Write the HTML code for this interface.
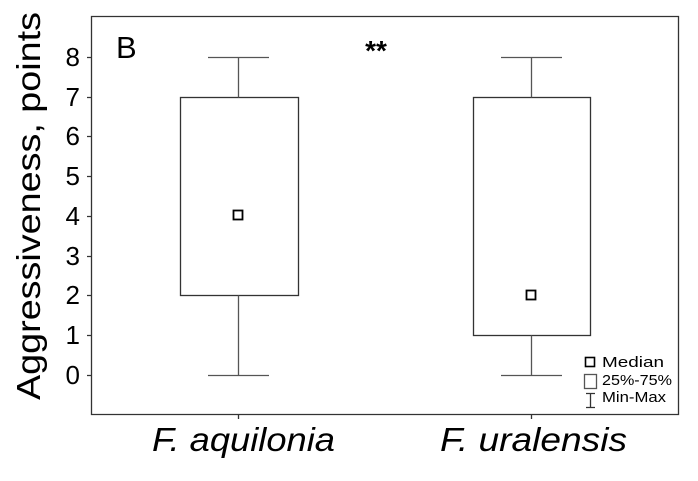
<!DOCTYPE html>
<html><head><meta charset="utf-8"><style>
html,body{margin:0;padding:0;background:#fff;}
svg{display:block;font-family:"Liberation Sans",Arial,sans-serif;}
</style></head><body>
<svg width="698" height="481" viewBox="0 0 698 481" xmlns="http://www.w3.org/2000/svg">
<g stroke="#333" stroke-width="1.3" fill="none">
<path d="M91.5 16.5H678.5V414.5H91.5Z"/>
<path d="M87 57.5H91M87 97.5H91M87 136.5H91M87 176.5H91M87 216.5H91M87 256.5H91M87 295.5H91M87 335.5H91M87 375.5H91"/>
<path d="M238.5 414V419M531.5 414V419"/>
<rect x="180.5" y="97.5" width="118" height="198"/>
<path d="M238.5 57.5V97.5M238.5 295.5V375.5M208 57.5H269M208 375.5H269" stroke="#555"/>
<rect x="233.5" y="210.5" width="9" height="9" stroke="#000" stroke-width="1.8"/>
<rect x="473.5" y="97.5" width="117" height="238"/>
<path d="M531.5 57.5V97.5M531.5 335.5V375.5M501 57.5H562M501 375.5H562" stroke="#555"/>
<rect x="526.5" y="290.5" width="9" height="9" stroke="#000" stroke-width="1.8"/>
<rect x="585.5" y="357.5" width="9" height="9" stroke="#000" stroke-width="1.6"/>
<rect x="584.5" y="374.5" width="12" height="14" stroke="#555"/>
<path d="M590.5 393V407M586 393.5H595M586 407.5H595" stroke="#333"/>
</g>
<g font-size="26" text-anchor="end" fill="#000">
<text x="80" y="66">8</text><text x="80" y="106">7</text><text x="80" y="145">6</text>
<text x="80" y="185">5</text><text x="80" y="225">4</text><text x="80" y="265">3</text>
<text x="80" y="304">2</text><text x="80" y="344">1</text><text x="80" y="384">0</text>
</g>
<text transform="translate(40,400) rotate(-90)" font-size="33" textLength="388" lengthAdjust="spacingAndGlyphs">Aggressiveness, points</text>
<text x="116" y="58" font-size="31">B</text>
<text x="376" y="60" font-size="28" font-weight="bold" text-anchor="middle">**</text>
<g font-size="15" fill="#000">
<text x="602" y="367" textLength="62" lengthAdjust="spacingAndGlyphs">Median</text>
<text x="602" y="385" textLength="70" lengthAdjust="spacingAndGlyphs">25%-75%</text>
<text x="602" y="402" textLength="64" lengthAdjust="spacingAndGlyphs">Min-Max</text>
</g>
<g font-size="33" font-style="italic">
<text x="152" y="451" textLength="183" lengthAdjust="spacingAndGlyphs">F. aquilonia</text>
<text x="440" y="451" textLength="187" lengthAdjust="spacingAndGlyphs">F. uralensis</text>
</g>
</svg>
</body></html>
